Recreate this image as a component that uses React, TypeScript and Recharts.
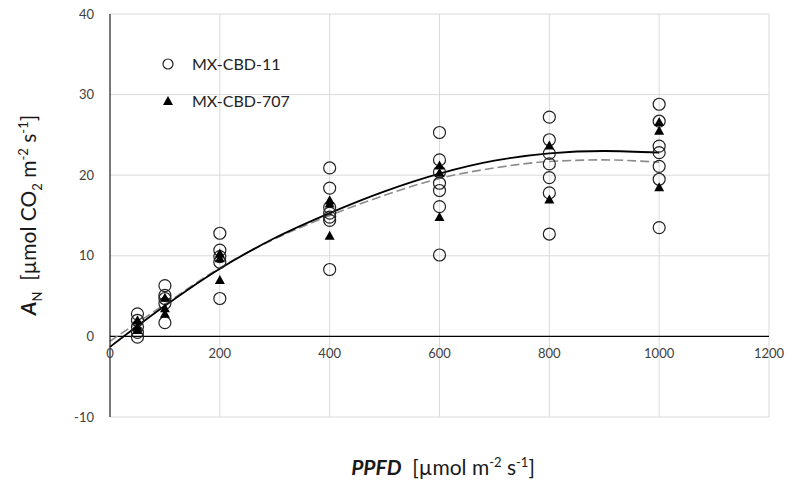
import {ComposedChart, Scatter, Line, XAxis, YAxis, CartesianGrid, ReferenceLine} from "recharts";

// PPFD levels where leaves were measured
const ppfdLevels = [50, 100, 200, 400, 600, 800, 1000];

// A_N readings per PPFD level, MX-CBD-11 (open circles)
const cbd11Values = [
  [2.8, 2.0, 1.2, 0.5, -0.1],
  [6.3, 5.1, 4.7, 4.1, 1.7],
  [12.8, 10.7, 9.9, 9.2, 4.7],
  [20.9, 18.4, 16.0, 15.3, 14.8, 14.4, 8.3],
  [25.3, 21.9, 20.4, 19.0, 18.1, 16.1, 10.1],
  [27.2, 24.4, 22.7, 21.4, 19.7, 17.8, 12.7],
  [28.8, 26.7, 23.6, 22.8, 21.1, 19.5, 13.5],
];

// A_N readings per PPFD level, MX-CBD-707 (filled triangles)
const cbd707Values = [
  [2.0, 1.2, 0.8],
  [4.8, 3.5, 2.8],
  [10.3, 9.7, 7.0],
  [16.9, 16.5, 12.5],
  [21.2, 20.3, 14.8],
  [23.7, 17.0],
  [26.6, 25.5, 18.5],
];

// trend lines
const fitX = [0, 100, 200, 300, 400, 500, 600, 700, 800, 900, 1000];
const fitSolid = [-1.3, 3.8, 8.4, 12.2, 15.3, 18.0, 20.2, 21.8, 22.7, 23.0, 22.8];
const fitDashed = [-0.6, 4.0, 8.5, 12.1, 15.0, 17.5, 19.6, 20.9, 21.7, 21.9, 21.6];

const xTicks = [0, 200, 400, 600, 800, 1000, 1200];
const yTicks = [-10, 0, 10, 20, 30, 40];

const toPoints = (groups: number[][]) =>
  groups.flatMap((vals, i) => vals.map((y) => ({x: ppfdLevels[i], y})));

const cbd11Points = toPoints(cbd11Values);
const cbd707Points = toPoints(cbd707Values);
const solidLine = fitX.map((x, i) => ({x, y: fitSolid[i]}));
const dashedLine = fitX.map((x, i) => ({x, y: fitDashed[i]}));

const W = 787;
const H = 492;
const TOP = 14;
const BOTTOM = 75;
const PLOT_H = H - TOP - BOTTOM;
const ZERO_SHIFT = (PLOT_H * 10) / 50; // distance from bottom edge (-10) up to 0

const FONT = "Lato, 'Open Sans', sans-serif";
const SMALL = {fontSize: 13};

const Circle = (props: any) => (
  <circle cx={props.cx} cy={props.cy} r={6} fill="none" stroke="#222" strokeWidth={1.2} />
);

const Triangle = (props: any) => {
  const {cx, cy} = props;
  return <polygon points={`${cx},${cy - 5} ${cx - 5},${cy + 4} ${cx + 5},${cy + 4}`} fill="#000" />;
};

const XTick = (props: any) => (
  <text x={props.x} y={props.y - ZERO_SHIFT + 14} textAnchor="middle" fontSize={13} fill="#404040" fontFamily={FONT}>
    {props.payload.value}
  </text>
);

const LegendBox = () => (
  <div style={{position: "absolute", left: 161, top: 45, fontFamily: FONT, fontSize: 16, color: "#222", lineHeight: "37px"}}>
    <div style={{display: "flex", alignItems: "center"}}>
      <svg width={14} height={14} style={{marginRight: 17}}>
        <circle cx={7} cy={7} r={5} fill="none" stroke="#222" strokeWidth={1.2} />
      </svg>
      MX-CBD-11
    </div>
    <div style={{display: "flex", alignItems: "center"}}>
      <svg width={14} height={14} style={{marginRight: 17}}>
        <polygon points="7,2 2,11 12,11" fill="#000" />
      </svg>
      MX-CBD-707
    </div>
  </div>
);

export default function App() {
  return (
    <div style={{position: "absolute", left: 0, top: 0, width: W, height: H, background: "#fff"}}>
      <ComposedChart width={W} height={H} margin={{top: TOP, right: 18, left: 0, bottom: 0}}>
        <CartesianGrid stroke="#d9d9d9" />
        <XAxis
          type="number"
          dataKey="x"
          domain={[0, 1200]}
          ticks={xTicks}
          height={BOTTOM}
          axisLine={false}
          tickLine={false}
          tick={<XTick />}
          interval={0}
        />
        <YAxis
          type="number"
          dataKey="y"
          domain={[-10, 40]}
          ticks={yTicks}
          width={110}
          axisLine={{stroke: "#000"}}
          tickLine={false}
          tickMargin={10}
          tick={{fontSize: 13, fill: "#404040", fontFamily: FONT}}
          interval={0}
        />
        <ReferenceLine y={0} stroke="#000" strokeWidth={1.2} />
        <Scatter data={cbd11Points} dataKey="y" shape={<Circle />} isAnimationActive={false} />
        <Scatter data={cbd707Points} dataKey="y" shape={<Triangle />} isAnimationActive={false} />
        <Line data={dashedLine} dataKey="y" type="monotone" stroke="#8c8c8c" strokeWidth={1.6} strokeDasharray="9 4" dot={false} isAnimationActive={false} />
        <Line data={solidLine} dataKey="y" type="monotone" stroke="#000" strokeWidth={1.8} dot={false} isAnimationActive={false} />
      </ComposedChart>
      <LegendBox />
      <div
        style={{
          position: "absolute",
          left: 30,
          top: 215,
          transform: "translate(-50%, -50%) rotate(-90deg)",
          whiteSpace: "nowrap",
          fontFamily: FONT,
          fontSize: 21,
          color: "#1a1a1a",
        }}
      >
        <b><i>A</i></b><sub style={SMALL}>N</sub>&nbsp; [µmol CO<sub style={SMALL}>2</sub> m<sup style={SMALL}>-2</sup> s<sup style={SMALL}>-1</sup>]
      </div>
      <div
        style={{
          position: "absolute",
          left: 443,
          top: 466,
          transform: "translate(-50%, -50%)",
          whiteSpace: "nowrap",
          fontFamily: FONT,
          fontSize: 21,
          color: "#1a1a1a",
        }}
      >
        <b><i>PPFD</i></b>&nbsp; [µmol m<sup style={SMALL}>-2</sup> s<sup style={SMALL}>-1</sup>]
      </div>
    </div>
  );
}
